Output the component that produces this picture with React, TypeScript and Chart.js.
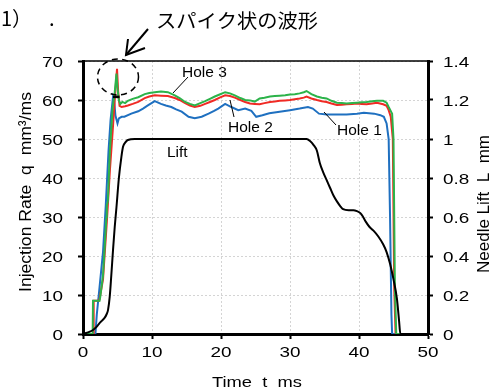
import { useEffect, useRef } from "react";
import { Chart, registerables } from "chart.js";

Chart.register(...registerables);

// ---- tick labels ----
const timeTicks = [0, 10, 20, 30, 40, 50];
const rateTicks = [0, 10, 20, 30, 40, 50, 60, 70];
const liftTicks = [0, 0.2, 0.4, 0.6, 0.8, 1.0, 1.2, 1.4];
const liftTickLabels = ["0", "0.2", "0.4", "0.6", "0.8", "1", "1.2", "1.4"];

// ---- Hole 3 (green) ----
const hole3Time = [0, 1.4, 1.45, 2.4, 2.5, 2.9, 3.4, 3.45, 3.6, 3.9, 4.3, 4.6, 4.85, 5.0, 5.2, 5.4, 5.7, 6.1, 6.5, 7.2, 8.0, 8.95, 9.6, 10.4, 11.3, 12.3, 13.3, 14.0, 14.8, 15.5, 16.2, 17.0, 17.7, 18.4, 19.1, 19.8, 20.6, 21.3, 22.0, 22.8, 23.5, 24.2, 24.9, 25.6, 26.3, 27.1, 27.8, 28.5, 29.3, 30.0, 30.7, 31.4, 32.0, 32.4, 33.1, 33.9, 34.6, 35.3, 36.0, 36.8, 37.5, 38.2, 39.0, 39.7, 40.4, 41.1, 41.9, 42.6, 43.5, 44.0, 44.3, 44.8, 45.0, 45.2, 45.4, 50];
const hole3Rate = [0, 0, 8.5, 8.5, 9.5, 15, 30, 33, 34, 47, 58, 62, 66.8, 63, 60, 59, 59.5, 59.2, 59.8, 60.3, 60.7, 61.5, 61.8, 62, 62.2, 62, 61.2, 60.5, 59.5, 59, 58.6, 59.2, 59.7, 60.3, 60.9, 61.4, 62, 61.7, 61.2, 60.5, 60, 59.9, 59.6, 60.4, 60.6, 60.9, 61, 61.1, 61.2, 61.4, 61.5, 61.7, 62, 62.3, 61.5, 60.9, 60.6, 60.4, 59.8, 59.3, 59.2, 59.1, 59.2, 59.3, 59.4, 59.5, 59.7, 59.8, 59.8, 59.3, 58.2, 56.5, 50, 12, 0, 0];

// ---- Hole 2 (red) ----
const hole2Time = [0, 1.5, 1.55, 2.3, 2.4, 2.9, 3.5, 3.9, 4.3, 4.6, 4.93, 5.1, 5.3, 5.6, 6.1, 6.5, 7.2, 8.0, 8.95, 9.6, 10.4, 11.3, 12.3, 13.3, 14.0, 14.8, 15.5, 16.2, 17.0, 17.7, 18.4, 19.1, 19.8, 20.6, 21.3, 22.0, 22.8, 23.5, 24.2, 24.9, 25.6, 26.3, 27.1, 27.8, 28.5, 29.3, 30.0, 30.7, 31.4, 32.0, 32.4, 33.1, 33.9, 34.6, 35.3, 36.0, 36.8, 37.5, 38.2, 39.0, 39.7, 40.4, 41.1, 41.9, 42.6, 43.5, 44.0, 44.3, 44.6, 44.9, 45.1, 45.3, 50];
const hole2Rate = [0, 0, 8.5, 8.5, 9, 14, 30, 42, 52, 60, 68, 62, 58.5, 58.2, 58.4, 58.6, 59, 59.5, 60.5, 60.9, 61.2, 61.1, 61, 60.5, 60, 59.2, 58.6, 58.2, 58.5, 59, 59.5, 60, 60.6, 61.2, 61, 60.6, 60, 59.5, 59.1, 59, 58.9, 59.2, 59.5, 59.6, 59.8, 59.9, 60, 60.2, 60.4, 60.6, 60.9, 60.4, 60, 59.7, 59.5, 59.1, 58.7, 58.8, 58.9, 59, 59.1, 59, 58.9, 59.1, 59.3, 58.9, 58.5, 57.4, 55.7, 50, 12, 0, 0];

// ---- Hole 1 (blue) ----
const hole1Time = [0, 1.8, 2.0, 2.4, 2.9, 3.3, 3.7, 4.0, 4.35, 4.5, 4.7, 5.0, 5.2, 5.6, 6.0, 7.0, 8.0, 8.7, 9.4, 10.4, 11.3, 12.0, 12.8, 13.5, 14.3, 15.3, 16.2, 17.2, 18.2, 19.0, 19.6, 20.6, 21.5, 22.5, 23.5, 24.4, 25.1, 26.0, 27.0, 28.5, 30.0, 31.4, 32.6, 33.3, 34.2, 35.3, 36.8, 38.2, 39.7, 40.7, 42.2, 43.1, 43.6, 44.0, 44.3, 44.5, 44.7, 44.8, 50];
const hole1Rate = [0, 0, 5, 12, 21, 33, 47, 55, 60.8, 60, 56, 54, 55.3, 55.7, 55.7, 56.5, 57.1, 57.8, 58.6, 59.7, 59, 58.6, 58.2, 57.6, 57, 55.7, 55.3, 55.7, 56.5, 57.2, 57.8, 59, 58.2, 57.4, 57.8, 57.2, 55.7, 56.1, 56.6, 57, 57.4, 57.8, 58.2, 57.8, 56.5, 56.3, 56.3, 56.3, 56.5, 56.7, 56.5, 56.1, 55.7, 54, 50, 30, 5, 0, 0];

// ---- Needle lift (black, right axis) ----
const liftTime = [0, 1.0, 1.5, 2.0, 2.4, 2.8, 3.15, 3.4, 3.63, 3.87, 4.1, 4.35, 4.6, 4.85, 5.2, 5.57, 5.8, 6.2, 6.5, 7.5, 32.4, 32.9, 33.4, 33.9, 34.3, 34.8, 35.3, 35.8, 36.3, 36.8, 37.3, 37.7, 38.5, 39.2, 39.7, 40.2, 40.6, 41.0, 41.5, 42.1, 42.8, 43.5, 44.0, 44.5, 45.0, 45.5, 45.8, 46.0, 50];
const liftValue = [0, 0.012, 0.022, 0.038, 0.056, 0.07, 0.084, 0.1, 0.124, 0.19, 0.3, 0.43, 0.55, 0.65, 0.8, 0.91, 0.96, 0.985, 0.995, 1.0, 1.0, 0.99, 0.97, 0.94, 0.88, 0.83, 0.79, 0.75, 0.71, 0.68, 0.655, 0.64, 0.635, 0.635, 0.63, 0.62, 0.6, 0.575, 0.55, 0.53, 0.5, 0.46, 0.42, 0.36, 0.28, 0.18, 0.07, 0, 0];

// short black bar at the top of the Hole 1 spike
const barTime = [4.35, 5.3];
const barRate = [60.8, 60.8];

const pts = (t: number[], v: number[]) => t.map((x, i) => ({ x, y: v[i] }));

const SANS = "'Liberation Sans', Arial, sans-serif";
const CJK = "'Noto Sans CJK JP', sans-serif";

function drawText(
  ctx: CanvasRenderingContext2D,
  s: string,
  x: number,
  y: number,
  font: string,
  align: CanvasTextAlign,
  opts: { sx?: number; fit?: number; rot?: number } = {}
) {
  ctx.save();
  ctx.font = font;
  ctx.translate(x, y);
  if (opts.rot) ctx.rotate(opts.rot);
  let sx = opts.sx ?? 1;
  if (opts.fit) sx = opts.fit / ctx.measureText(s).width;
  ctx.scale(sx, 1);
  ctx.textAlign = align;
  ctx.textBaseline = "alphabetic";
  ctx.fillStyle = "#000";
  ctx.fillText(s, 0, 0);
  ctx.restore();
}

function line(ctx: CanvasRenderingContext2D, p: number[][], w: number) {
  ctx.save();
  ctx.strokeStyle = "#000";
  ctx.lineWidth = w;
  ctx.beginPath();
  p.forEach(([x, y], i) => (i ? ctx.lineTo(x, y) : ctx.moveTo(x, y)));
  ctx.stroke();
  ctx.restore();
}

const annotPlugin = {
  id: "annot",
  afterDraw(chart: any) {
    const ctx: CanvasRenderingContext2D = chart.ctx;
    const a = chart.chartArea;
    const xs = chart.scales.x;
    const ys = chart.scales.y;
    const yl = chart.scales.yL;

    // top frame line
    line(ctx, [[a.left, a.top], [a.right, a.top]], 1.5);

    // tick labels
    const tf = `14px ${SANS}`;
    rateTicks.forEach((v) => drawText(ctx, String(v), 63, ys.getPixelForValue(v) + 5.5, tf, "right", { sx: 1.35 }));
    liftTicks.forEach((v, i) => drawText(ctx, liftTickLabels[i], 443, yl.getPixelForValue(v) + 5.5, tf, "left", { sx: 1.35 }));
    timeTicks.forEach((v) => drawText(ctx, String(v), xs.getPixelForValue(v), 357, tf, "center", { sx: 1.35 }));

    // axis titles
    drawText(ctx, "Time  t  ms", 257, 387, `15px ${SANS}`, "center", { fit: 90 });
    drawText(ctx, "Injection Rate  q  mm³/ms", 30.5, 192, `17px ${SANS}`, "center", { fit: 200, rot: -Math.PI / 2 });
    drawText(ctx, "Needle Lift  L  mm", 489, 204, `17px ${SANS}`, "center", { fit: 138, rot: -Math.PI / 2 });

    // series labels + leaders
    const af = `15.5px ${SANS}`;
    drawText(ctx, "Hole 3", 182, 77, af, "left");
    line(ctx, [[188, 77], [173, 93]], 1);
    drawText(ctx, "Hole 2", 228, 131.5, af, "left");
    line(ctx, [[230, 100], [234, 117]], 1);
    drawText(ctx, "Hole 1", 337, 135, af, "left");
    line(ctx, [[324, 112], [336, 125]], 1);
    drawText(ctx, "Lift", 167, 156.5, af, "left");

    // dashed ellipse around the spike
    ctx.save();
    ctx.strokeStyle = "#000";
    ctx.lineWidth = 1.5;
    ctx.setLineDash([6, 4.5]);
    ctx.beginPath();
    ctx.ellipse(118, 77, 20.5, 18, 0, 0, Math.PI * 2);
    ctx.stroke();
    ctx.restore();

    // arrow
    line(ctx, [[148, 29], [126, 55]], 2);
    line(ctx, [[128, 39], [126, 55], [145, 48]], 2);

    // header texts
    drawText(ctx, "スパイク状の波形", 156, 27.5, `19px ${CJK}`, "left", { fit: 162 });
    drawText(ctx, "1）", 1, 26, `20px ${CJK}`, "left");
    drawText(ctx, ".", 49, 26, `20px ${CJK}`, "left");
  },
};

export default function App() {
  const ref = useRef<HTMLCanvasElement>(null);

  useEffect(() => {
    if (!ref.current) return;
    const common = { pointRadius: 0, borderWidth: 2, fill: false, tension: 0 };
    const gridColor = "#d4d4d4";
    const chart = new Chart(ref.current, {
      type: "line",
      data: {
        datasets: [
          { ...common, label: "Lift", data: pts(liftTime, liftValue), borderColor: "#000", yAxisID: "yL", order: 0, cubicInterpolationMode: "monotone" },
          { ...common, label: "Bar", data: pts(barTime, barRate), borderColor: "#000", yAxisID: "y", order: 0, borderWidth: 2.5 },
          { ...common, label: "Hole 3", data: pts(hole3Time, hole3Rate), borderColor: "#2cb34a", yAxisID: "y", order: 1 },
          { ...common, label: "Hole 2", data: pts(hole2Time, hole2Rate), borderColor: "#f02a24", yAxisID: "y", order: 2 },
          { ...common, label: "Hole 1", data: pts(hole1Time, hole1Rate), borderColor: "#1f70c0", yAxisID: "y", order: 3 },
        ] as any,
      },
      options: {
        animation: false,
        responsive: false,
        maintainAspectRatio: false,
        layout: { padding: { top: 61, left: 0, right: 0, bottom: 0 } },
        plugins: { legend: { display: false }, tooltip: { enabled: false } },
        scales: {
          x: {
            type: "linear",
            position: "bottom",
            min: 0,
            max: 50,
            ticks: { display: false, stepSize: 10 },
            grid: { color: gridColor, lineWidth: 1, tickLength: 5, tickColor: "#000", tickWidth: 2 },
            border: { display: true, color: "#000", width: 3, dash: [2, 2] },
            afterFit: (s: any) => { s.height = 55; },
          },
          y: {
            type: "linear",
            position: "left",
            min: 0,
            max: 70,
            ticks: { display: false, stepSize: 10 },
            grid: { color: gridColor, lineWidth: 1, tickLength: 5, tickColor: "#000", tickWidth: 2 },
            border: { display: true, color: "#000", width: 3, dash: [2, 2] },
            afterFit: (s: any) => { s.width = 83; },
          },
          yL: {
            type: "linear",
            position: "right",
            min: 0,
            max: 1.4,
            ticks: { display: false, stepSize: 0.2 },
            grid: { drawOnChartArea: false, tickLength: 5, tickColor: "#000", tickWidth: 2 },
            border: { display: true, color: "#000", width: 3 },
            afterFit: (s: any) => { s.width = 72; },
          },
        },
      } as any,
      plugins: [annotPlugin],
    });
    return () => chart.destroy();
  }, []);

  return (
    <div style={{ position: "fixed", left: 0, top: 0, width: 500, height: 389, background: "#fff" }}>
      <canvas ref={ref} width={500} height={389} style={{ display: "block" }} />
    </div>
  );
}
